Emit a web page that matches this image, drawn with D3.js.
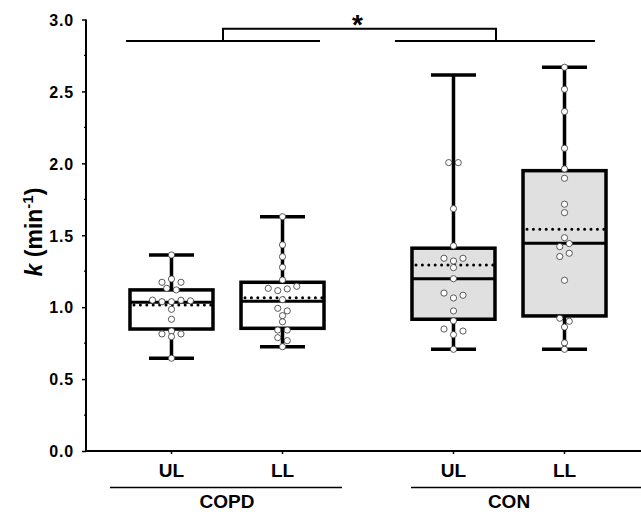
<!DOCTYPE html>
<html><head><meta charset="utf-8">
<script src="https://cdn.jsdelivr.net/npm/d3@7"></script>
<style>
html,body{margin:0;padding:0;background:#fff;}
svg text{font-family:Arial,"Liberation Sans",sans-serif;font-weight:bold;fill:#000;}
</style></head>
<body><svg id="c" width="641" height="512"></svg>
<script>
// ---- data ----
const groups = ["COPD", "CON"];
const sites = ["UL", "LL"];
const boxKeys = ["COPD-UL", "COPD-LL", "CON-UL", "CON-LL"];
const q1 = [0.848, 0.853, 0.916, 0.939];
const median = [1.034, 1.041, 1.198, 1.444];
const q3 = [1.12, 1.173, 1.41, 1.949];
const whiskerLow = [0.645, 0.725, 0.707, 0.707];
const whiskerHigh = [1.363, 1.629, 2.615, 2.668];
const mean = [1.015, 1.066, 1.293, 1.542];
const copdUL = [1.363, 1.173, 1.196, 1.173, 1.131, 1.12, 1.049, 1.038, 1.038, 1.048, 1.044,
  0.985, 0.916, 0.814, 0.834, 0.814, 0.795, 0.645];
const copdLL = [1.629, 1.433, 1.351, 1.277, 1.189, 1.131, 1.115, 1.127, 1.145, 1.052,
  0.992, 0.974, 0.941, 0.898, 0.841, 0.841, 0.788, 0.767, 0.725];
const conUL = [2.005, 2.005, 1.685, 1.426, 1.34, 1.321, 1.34, 1.275, 1.198, 1.098, 1.064, 1.083,
  0.974, 0.905, 0.848, 0.809, 0.834, 0.707];
const conLL = [2.668, 2.515, 2.36, 2.105, 1.961, 1.896, 1.716, 1.657, 1.483, 1.421, 1.442,
  1.352, 1.375, 1.187, 0.923, 0.902, 0.862, 0.752, 0.707];
const points = [copdUL, copdLL, conUL, conLL];
const yTicks = [0, 0.5, 1.0, 1.5, 2.0, 2.5, 3.0];
const yMinorTicks = [0.25, 0.75, 1.25, 1.75, 2.25, 2.75];
const sigLevel = 2.85, sigBracket = 2.935, sigLabel = "*";

// ---- layout ----
const svg = d3.select("#c");
const y = d3.scaleLinear().domain([0, 3]).range([451, 19.5]);
const xg = d3.scaleBand().domain(groups).range([86, 650]);
const xs = d3.scalePoint().domain(sites).range([0, xg.bandwidth()]).padding(0.77);
const xPos = i => xg(groups[Math.floor(i / 2)]) + xs(sites[i % 2]);
const gc = g => xg(g) + xg.bandwidth() / 2;
const boxHalf = 41.5, capHalf = 22.5, binW = 0.05, jitterStep = 9.5;

// axes
const yAxis = svg.append("g").attr("transform", "translate(86,0)")
  .call(d3.axisLeft(y).tickValues(yTicks).tickFormat(d3.format(".1f")).tickSize(4).tickPadding(8));
yAxis.select(".domain").attr("stroke-width", 2).attr("d", `M0,${y(3)}V${y(0)}`);
yAxis.selectAll(".tick line").attr("stroke-width", 1.5);
yAxis.selectAll("text").style("font-size", "16px").style("letter-spacing", "0.8px").attr("dy", "0.36em");
svg.append("g").attr("transform", "translate(86,0)")
  .selectAll("line").data(yMinorTicks).join("line")
  .attr("x1", -2).attr("x2", 0).attr("y1", d => y(d)).attr("y2", d => y(d))
  .attr("stroke", "#000").attr("stroke-width", 1.2);

svg.append("line").attr("x1", 85).attr("x2", 641).attr("y1", y(0)).attr("y2", y(0))
  .attr("stroke", "#000").attr("stroke-width", 2);
svg.selectAll(".xt").data(boxKeys).join("line").attr("class", "xt")
  .attr("x1", (d, i) => xPos(i)).attr("x2", (d, i) => xPos(i))
  .attr("y1", y(0)).attr("y2", y(0) + 3).attr("stroke", "#000").attr("stroke-width", 1.5);
svg.selectAll(".xl").data(boxKeys).join("text").attr("class", "xl")
  .attr("x", (d, i) => xPos(i)).attr("y", 477).attr("text-anchor", "middle")
  .style("font-size", "19px").text((d, i) => sites[i % 2]);

// group underlines and labels
const gLine = { COPD: [-117, 115], CON: [-98, 140] };
svg.selectAll(".gl").data(groups).join("line").attr("class", "gl")
  .attr("x1", d => gc(d) + gLine[d][0]).attr("x2", d => gc(d) + gLine[d][1])
  .attr("y1", 487.5).attr("y2", 487.5).attr("stroke", "#000").attr("stroke-width", 1.3);
svg.selectAll(".gt").data(groups).join("text").attr("class", "gt")
  .attr("x", d => gc(d)).attr("y", 508).attr("text-anchor", "middle")
  .style("font-size", "19px").text(d => d);

// y title
const t = svg.append("text").attr("transform", "translate(42,232) rotate(-90)")
  .attr("text-anchor", "middle").style("font-size", "23px");
t.append("tspan").style("font-style", "italic").text("k");
t.append("tspan").text("\u00a0(min");
t.append("tspan").attr("dy", -9).style("font-size", "15px").text("-1");
t.append("tspan").attr("dy", 9).text(")");

// boxes
const fills = ["#ffffff", "#ffffff", "#e0e0e0", "#e0e0e0"];
boxKeys.forEach((k, i) => {
  const cx = xPos(i);
  const g = svg.append("g");
  g.append("line").attr("x1", cx).attr("x2", cx).attr("y1", y(q3[i])).attr("y2", y(whiskerHigh[i]))
    .attr("stroke", "#000").attr("stroke-width", 3.5);
  g.append("line").attr("x1", cx).attr("x2", cx).attr("y1", y(q1[i])).attr("y2", y(whiskerLow[i]))
    .attr("stroke", "#000").attr("stroke-width", 3.5);
  [whiskerHigh[i], whiskerLow[i]].forEach(v => g.append("line")
    .attr("x1", cx - capHalf).attr("x2", cx + capHalf).attr("y1", y(v)).attr("y2", y(v))
    .attr("stroke", "#000").attr("stroke-width", 3.5));
  g.append("rect").attr("x", cx - boxHalf).attr("width", boxHalf * 2)
    .attr("y", y(q3[i])).attr("height", y(q1[i]) - y(q3[i]))
    .attr("fill", fills[i]).attr("stroke", "#000").attr("stroke-width", 3.5);
  g.append("line").attr("x1", cx - boxHalf).attr("x2", cx + boxHalf)
    .attr("y1", y(median[i])).attr("y2", y(median[i])).attr("stroke", "#000").attr("stroke-width", 3);
  g.append("line").attr("x1", cx - boxHalf + 4).attr("x2", cx + boxHalf - 2)
    .attr("y1", y(mean[i])).attr("y2", y(mean[i])).attr("stroke", "#000").attr("stroke-width", 3)
    .attr("stroke-linecap", "round").attr("stroke-dasharray", "0,6.4");
  const bins = d3.group(points[i].map((v, j) => ({ v, j })), d => Math.floor(d.v / binW + 1e-9));
  const pts = [];
  bins.forEach(arr => arr.forEach((d, r) => pts.push({ v: d.v, dx: (r - (arr.length - 1) / 2) * jitterStep })));
  g.selectAll("circle").data(pts).join("circle")
    .attr("cx", d => cx + d.dx).attr("cy", d => y(d.v)).attr("r", 3.1)
    .attr("fill", "#fff").attr("stroke", "#333").attr("stroke-width", 0.8);
});

// significance bracket
const sig = { COPD: [-101, 93], CON: [-114, 86] };
groups.forEach(gname => {
  svg.append("line").attr("x1", gc(gname) + sig[gname][0]).attr("x2", gc(gname) + sig[gname][1])
    .attr("y1", y(sigLevel)).attr("y2", y(sigLevel)).attr("stroke", "#000").attr("stroke-width", 2);
});
const bx1 = gc("COPD") - 4, bx2 = gc("CON") - 13;
svg.append("path").attr("d", `M${bx1},${y(sigLevel)}V${y(sigBracket)}H${bx2}V${y(sigLevel)}`)
  .attr("fill", "none").attr("stroke", "#000").attr("stroke-width", 2);
svg.append("text").attr("x", (bx1 + bx2) / 2 - 2).attr("y", 34).attr("text-anchor", "middle")
  .style("font-size", "28px").text(sigLabel);
</script></body></html>
